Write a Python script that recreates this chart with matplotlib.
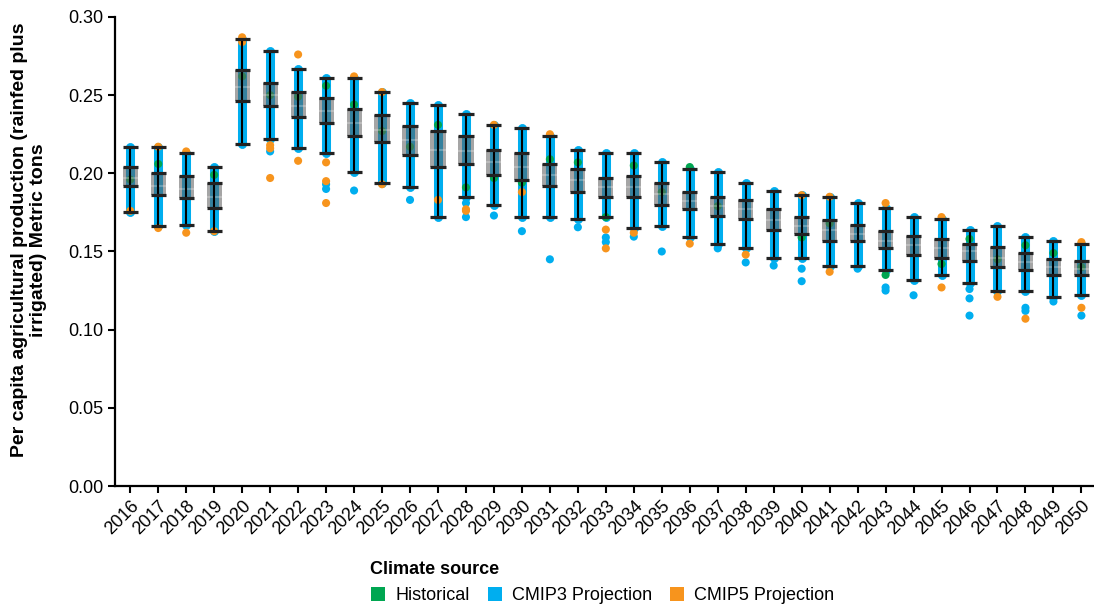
import numpy as np
import matplotlib
matplotlib.use("Agg")
import matplotlib.pyplot as plt
from matplotlib.lines import Line2D
from matplotlib import rcParams

rcParams['font.family'] = ['Liberation Sans', 'DejaVu Sans']
rcParams['font.size'] = 13

years = list(range(2016, 2051))

# box summary per year
whis_hi = [0.217, 0.217, 0.213, 0.204, 0.286, 0.278, 0.267, 0.261, 0.261, 0.252,
           0.245, 0.244, 0.238, 0.231, 0.229, 0.224, 0.215, 0.213, 0.213, 0.207,
           0.203, 0.201, 0.194, 0.189, 0.186, 0.185, 0.181, 0.178, 0.172, 0.171,
           0.164, 0.166, 0.159, 0.157, 0.155]
q3 = [0.204, 0.200, 0.198, 0.194, 0.266, 0.258, 0.252, 0.248, 0.241, 0.237,
      0.230, 0.227, 0.224, 0.215, 0.213, 0.206, 0.203, 0.197, 0.198, 0.194,
      0.188, 0.185, 0.183, 0.177, 0.172, 0.170, 0.167, 0.163, 0.160, 0.158,
      0.155, 0.153, 0.149, 0.145, 0.144]
median = [0.197, 0.192, 0.190, 0.185, 0.255, 0.250, 0.243, 0.240, 0.232, 0.228,
          0.221, 0.215, 0.214, 0.207, 0.204, 0.199, 0.196, 0.191, 0.191, 0.187,
          0.182, 0.179, 0.177, 0.170, 0.166, 0.164, 0.161, 0.157, 0.154, 0.152,
          0.150, 0.146, 0.143, 0.140, 0.139]
q1 = [0.192, 0.186, 0.184, 0.178, 0.246, 0.243, 0.236, 0.232, 0.224, 0.220,
      0.212, 0.204, 0.206, 0.199, 0.196, 0.192, 0.188, 0.185, 0.185, 0.180,
      0.177, 0.173, 0.171, 0.164, 0.161, 0.157, 0.157, 0.152, 0.148, 0.146,
      0.144, 0.140, 0.138, 0.135, 0.135]
whis_lo = [0.175, 0.166, 0.167, 0.163, 0.219, 0.222, 0.216, 0.213, 0.201, 0.194,
           0.191, 0.172, 0.185, 0.180, 0.172, 0.172, 0.171, 0.172, 0.165, 0.166,
           0.159, 0.155, 0.152, 0.146, 0.146, 0.141, 0.141, 0.138, 0.132, 0.135,
           0.130, 0.125, 0.125, 0.121, 0.122]

# single points visible apart from the dense CMIP3 strip
cmip3_pts = [(2021, 0.214), (2023, 0.193), (2023, 0.190), (2024, 0.189), (2026, 0.183),
             (2028, 0.181), (2028, 0.172), (2029, 0.173), (2030, 0.163), (2031, 0.145),
             (2032, 0.1655), (2033, 0.159), (2033, 0.156), (2034, 0.1595), (2035, 0.150),
             (2037, 0.152), (2038, 0.143), (2039, 0.141), (2040, 0.139), (2040, 0.131),
             (2042, 0.139), (2043, 0.127), (2043, 0.125), (2044, 0.122), (2046, 0.126),
             (2046, 0.120), (2046, 0.109), (2048, 0.114), (2048, 0.112), (2049, 0.118),
             (2050, 0.109)]
cmip5_pts = [(2016, 0.176), (2017, 0.217), (2017, 0.165), (2018, 0.214), (2018, 0.162),
             (2019, 0.163), (2020, 0.287), (2020, 0.284), (2021, 0.218), (2021, 0.216),
             (2021, 0.197), (2022, 0.276), (2022, 0.208), (2023, 0.207), (2023, 0.195),
             (2023, 0.181), (2024, 0.262), (2025, 0.252), (2025, 0.193), (2027, 0.183),
             (2028, 0.177), (2028, 0.176), (2029, 0.231), (2030, 0.188), (2031, 0.225),
             (2033, 0.164), (2033, 0.152), (2034, 0.162), (2036, 0.155), (2038, 0.148),
             (2040, 0.186), (2041, 0.185), (2041, 0.137), (2043, 0.181), (2045, 0.172),
             (2045, 0.127), (2047, 0.121), (2048, 0.107), (2050, 0.156), (2050, 0.114)]
hist_pts = [(2016, 0.196), (2017, 0.206), (2019, 0.199), (2020, 0.262), (2021, 0.250),
            (2022, 0.249), (2023, 0.256), (2024, 0.244), (2025, 0.227), (2026, 0.217),
            (2027, 0.231), (2028, 0.191), (2029, 0.197), (2030, 0.194), (2031, 0.209),
            (2032, 0.207), (2033, 0.172), (2034, 0.205), (2035, 0.188), (2036, 0.204),
            (2037, 0.179), (2040, 0.159), (2041, 0.168), (2043, 0.135), (2045, 0.142),
            (2046, 0.158), (2047, 0.145), (2048, 0.154), (2049, 0.149), (2050, 0.140)]

c_hist = "#00a651"
c_cmip3 = "#00aeef"
c_cmip5 = "#f7941d"

fig = plt.figure(figsize=(10.94, 6.06), dpi=100)
ax = fig.add_axes([0.105, 0.198, 0.895, 0.774])

x = np.arange(len(years))
pos = {y: i for i, y in enumerate(years)}

# dense CMIP3 strip
ax.vlines(x, whis_lo, whis_hi, colors=c_cmip3, linewidth=6.5, capstyle="round", zorder=1)

def scatter_pts(pts, color):
    px = [pos[p[0]] for p in pts]
    py = [p[1] for p in pts]
    ax.scatter(px, py, s=34, color=color, edgecolors="none", zorder=2)

scatter_pts(cmip3_pts, c_cmip3)
scatter_pts(cmip5_pts, c_cmip5)
scatter_pts(hist_pts, c_hist)

w = 0.54
for i in range(len(years)):
    ax.add_patch(plt.Rectangle((i - w / 2, q1[i]), w, q3[i] - q1[i],
                               facecolor="#5f5f5f", edgecolor="none", alpha=0.56, zorder=3))
ax.hlines(median, x - w / 2, x + w / 2, colors="white", linewidth=1.5, alpha=0.25, zorder=4)
ax.vlines(x, whis_lo, whis_hi, colors="black", linewidth=1.5, zorder=5)
for arr in (whis_lo, q1, q3, whis_hi):
    ax.hlines(arr, x - w / 2, x + w / 2, colors="#222222", linewidth=2.3, zorder=6)

ax.set_xlim(-0.55, 34.45)
ax.set_ylim(0, 0.30)
ax.set_yticks(np.arange(0, 0.301, 0.05))
ax.set_yticklabels(["%.2f" % v for v in np.arange(0, 0.301, 0.05)])
ax.set_xticks(x)
ax.set_xticklabels([str(y) for y in years], rotation=45, ha="right", rotation_mode="anchor")
ax.tick_params(axis="both", direction="out", length=5, width=1.5, labelsize=13, colors="black")
for s in ("top", "right"):
    ax.spines[s].set_visible(False)
for s in ("left", "bottom"):
    ax.spines[s].set_linewidth(1.6)
ax.set_ylabel("Per capita agricultural production (rainfed plus\nirrigated) Metric tons",
              fontweight="bold", fontsize=14)
ax.yaxis.set_label_coords(-0.069, 0.524)

handles = [Line2D([], [], marker="s", linestyle="none", markersize=10.5, color=c, markeredgewidth=0)
           for c in (c_hist, c_cmip3, c_cmip5)]
leg = fig.legend(handles, ["Historical", "CMIP3 Projection", "CMIP5 Projection"],
                 loc="upper left", bbox_to_anchor=(0.338, 0.074), ncol=3, frameon=False,
                 title="Climate source", alignment="left", fontsize=13,
                 handlelength=0.9, handletextpad=0.5, columnspacing=0.95, borderpad=0,
                 borderaxespad=0)
leg.get_title().set_fontweight("bold")
leg.get_title().set_fontsize(13)

fig.savefig("out.png", dpi=100)
